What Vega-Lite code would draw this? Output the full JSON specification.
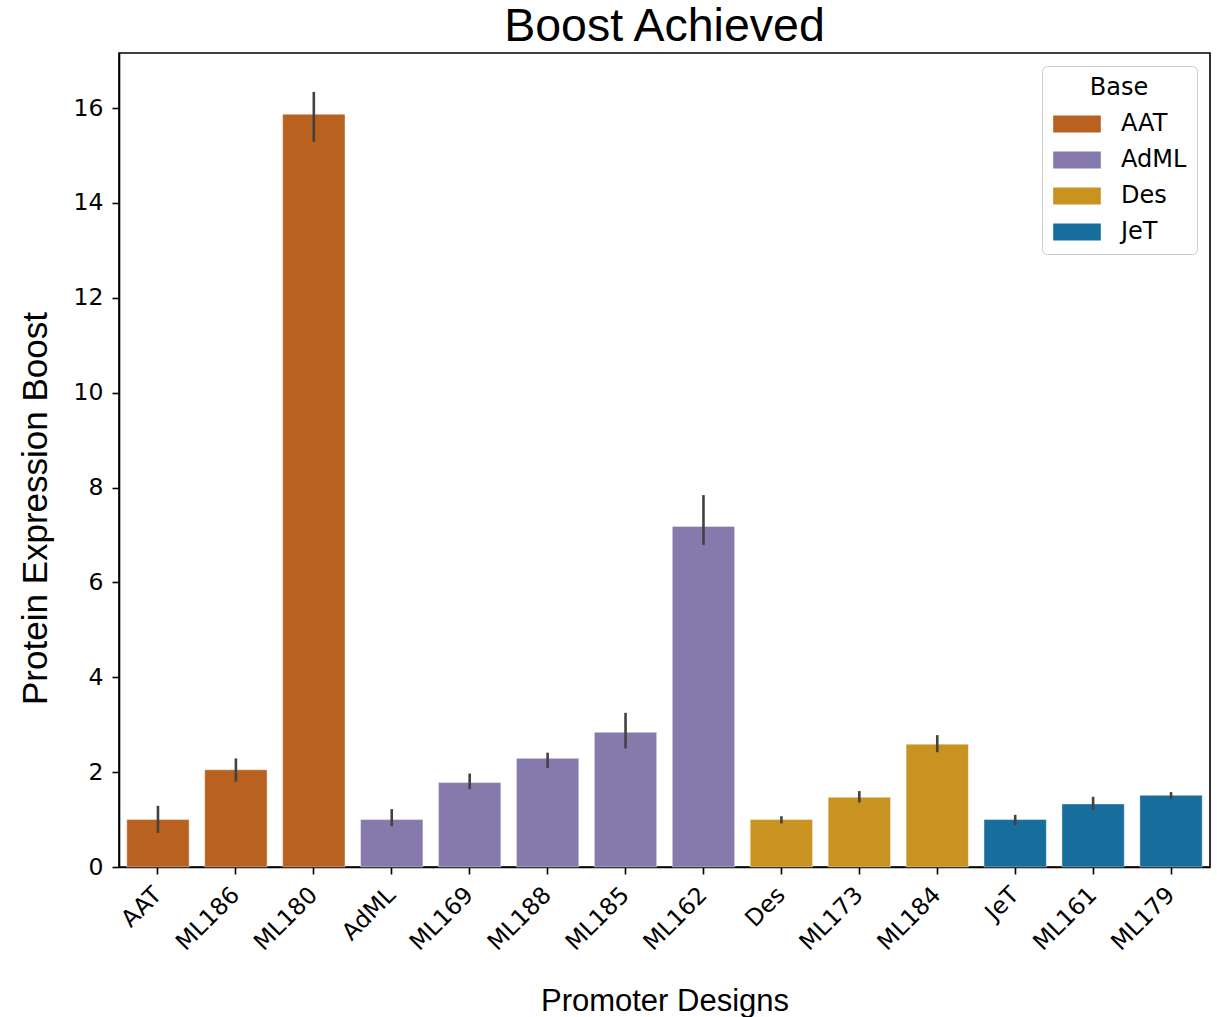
{
  "$schema": "https://vega.github.io/schema/vega-lite/v6.json",
  "autosize": {"type": "none"},
  "padding": {"left": 119, "top": 53, "right": 7, "bottom": 150},
  "width": 1091,
  "height": 814,
  "background": "white",
  "title": {
    "text": "Boost Achieved",
    "font": "Liberation Sans",
    "fontSize": 46.5,
    "fontWeight": "normal",
    "color": "black",
    "anchor": "middle",
    "offset": 3
  },
  "config": {
    "view": {"stroke": "black", "strokeWidth": 1.6},
    "axis": {
      "labelFont": "DejaVu Sans",
      "titleFont": "Liberation Sans",
      "labelColor": "black",
      "titleColor": "black",
      "domainColor": "black",
      "tickColor": "black",
      "domainWidth": 1.6,
      "tickWidth": 1.6,
      "tickSize": 7,
      "grid": false,
      "labelFontSize": 23.5,
      "titleFontWeight": "normal"
    }
  },
  "data": {
    "values": [
      {"design": "AAT", "base": "AAT", "value": 1.0, "lo": 0.72, "hi": 1.29},
      {"design": "ML186", "base": "AAT", "value": 2.05, "lo": 1.8, "hi": 2.29},
      {"design": "ML180", "base": "AAT", "value": 15.87, "lo": 15.29, "hi": 16.34},
      {"design": "AdML", "base": "AdML", "value": 1.0, "lo": 0.86, "hi": 1.22},
      {"design": "ML169", "base": "AdML", "value": 1.78, "lo": 1.64, "hi": 1.97},
      {"design": "ML188", "base": "AdML", "value": 2.29, "lo": 2.09, "hi": 2.41},
      {"design": "ML185", "base": "AdML", "value": 2.84, "lo": 2.5, "hi": 3.25},
      {"design": "ML162", "base": "AdML", "value": 7.18, "lo": 6.79, "hi": 7.84},
      {"design": "Des", "base": "Des", "value": 1.0, "lo": 0.92, "hi": 1.07},
      {"design": "ML173", "base": "Des", "value": 1.47, "lo": 1.36, "hi": 1.6},
      {"design": "ML184", "base": "Des", "value": 2.59, "lo": 2.42, "hi": 2.78},
      {"design": "JeT", "base": "JeT", "value": 1.0, "lo": 0.88, "hi": 1.1},
      {"design": "ML161", "base": "JeT", "value": 1.33, "lo": 1.2, "hi": 1.48},
      {"design": "ML179", "base": "JeT", "value": 1.51, "lo": 1.43, "hi": 1.58}
    ]
  },
  "encoding": {
    "x": {
      "field": "design",
      "type": "nominal",
      "sort": null,
      "title": "Promoter Designs",
      "scale": {"paddingInner": 0.2, "paddingOuter": 0.1},
      "axis": {
        "labelAngle": -45,
        "labelAlign": "right",
        "labelBaseline": "middle",
        "labelPadding": 17,
        "labelOffset": 0,
        "titleFontSize": 31,
        "titleBaseline": "middle",
        "titleY": 134
      }
    }
  },
  "layer": [
    {
      "mark": {"type": "bar", "stroke": "white", "strokeWidth": 0.6, "strokeOpacity": 0.7},
      "encoding": {
        "y": {
          "field": "value",
          "type": "quantitative",
          "title": "Protein Expression Boost",
          "scale": {"domain": [0, 17.16], "nice": false},
          "axis": {
            "values": [0, 2, 4, 6, 8, 10, 12, 14, 16],
            "labelPadding": 9,
            "titleFontSize": 35,
            "titleAngle": -90,
            "titleAlign": "center",
            "titleBaseline": "middle",
            "titleX": -84,
            "titleY": 455
          }
        },
        "color": {
          "field": "base",
          "type": "nominal",
          "title": "Base",
          "scale": {
            "domain": ["AAT", "AdML", "Des", "JeT"],
            "range": ["#b9611e", "#857aab", "#c89320", "#176d9c"]
          },
          "legend": {
            "orient": "top-right",
            "offset": 13,
            "fillColor": "white",
            "strokeColor": "#cccccc",
            "cornerRadius": 5,
            "padding": 10,
            "titleFont": "DejaVu Sans",
            "titleFontSize": 24,
            "titleFontWeight": "normal",
            "titleColor": "black",
            "titleAnchor": "middle",
            "titlePadding": 12,
            "labelFont": "DejaVu Sans",
            "labelFontSize": 24,
            "labelColor": "black",
            "symbolType": "M-2.8,-1H2.8V1H-2.8Z",
            "symbolSize": 289,
            "symbolStrokeWidth": 0,
            "symbolOpacity": 1,
            "symbolOffset": 13,
            "labelOffset": 32,
            "rowPadding": 12
          }
        }
      }
    },
    {
      "mark": {"type": "rule", "color": "#424242", "strokeWidth": 2.6},
      "encoding": {
        "y": {"field": "lo", "type": "quantitative"},
        "y2": {"field": "hi"}
      }
    }
  ]
}
